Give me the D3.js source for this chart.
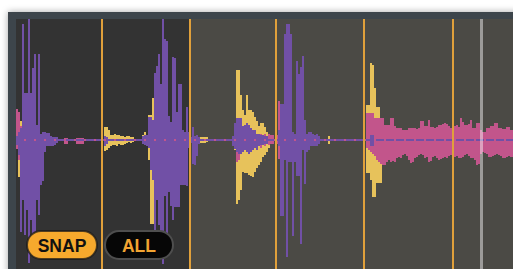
<!DOCTYPE html>
<html>
<head>
<meta charset="utf-8">
<script src="https://cdn.jsdelivr.net/npm/d3@7"></script>
<style>
  html, body { margin: 0; padding: 0; background: #ffffff; overflow: hidden; }
  svg { display: block; }
</style>
</head>
<body>
<svg id="sampler"></svg>
<script>
// ======================
// DATA
// ======================

// waveform columns: [timeIndex, levelAbove, levelBelow]
const purpleLevels = [
  [0,4,5],[1,8,15],[2,12,92],[3,116,60],[4,47,95],[5,47,70],[6,121,123],[7,47,80],[8,72,105],[9,86,92],
  [10,15,60],[11,86,75],[12,6,45],[13,8,41],[14,8,12],[15,7,6],[16,7,6],[17,4,6],[18,3,6],[19,3,5],[20,3,3],
  [44,4,6],[45,3,4],
  [63,4,4],[64,5,5],[65,5,6],[66,23,8],[67,23,30],[68,20,40],[69,67,96],[70,74,60],[71,86,85],[72,56,99],
  [73,121,124],[74,101,56],[75,99,96],[76,24,52],[77,18,66],[78,83,80],[79,82,67],[80,28,67],[81,56,67],
  [82,56,45],[83,10,45],[84,8,45],[85,33,46],[86,8,8],[87,3,3],[88,13,24],[89,4,25],[90,5,16],[91,3,4],
  [108,4,6],[109,17,9],[110,22,12],[111,22,14],[112,22,14],[113,14,12],[114,15,10],[115,17,12],[116,15,14],
  [117,12,12],[118,10,10],[119,10,8],[120,6,10],[121,6,6],[122,5,5],[123,5,5],[124,4,4],[125,4,4],
  [131,10,6],[132,36,76],[133,36,76],[134,106,20],[135,116,117],[136,116,22],[137,106,22],[138,8,96],
  [139,6,22],[140,79,36],[141,66,36],[142,73,104],[143,84,10],[144,20,44],[145,6,12],[146,8,10],[147,8,6],
  [148,6,6],[149,5,6],[150,6,6],[151,4,4],
  [177,5,6],[178,5,6]
];

const yellowLevels = [
  [1,6,37],[2,19,8],
  [44,13,11],[45,13,10],[46,10,8],[47,5,6],[48,5,5],[49,6,5],[50,5,6],[51,5,4],[52,4,5],[53,4,5],
  [54,3,4],[55,4,3],[56,4,2],[57,3,3],[58,3,2],
  [63,5,3],[64,8,4],[65,5,4],[66,25,20],[67,25,84],[68,42,84],
  [92,3,3],[93,3,3],[94,3,3],[95,3,2],
  [109,6,10],[110,70,64],[111,70,60],[112,45,50],[113,30,32],[114,25,33],[115,45,33],[116,30,35],
  [117,30,36],[118,28,37],[119,23,32],[120,19,28],[121,14,25],[122,17,22],[123,17,17],[124,13,15],
  [125,8,12],[126,6,8],
  [132,0,21],[138,4,0],[156,4,4],
  [175,35,33],[176,35,33],[177,77,40],[178,75,57],[179,52,57],[180,33,43],[181,33,43],[182,22,43],
  [183,15,25],[184,8,15]
];

const pinkLevels = [
  [0,31,9],[1,28,20],[2,14,12],
  [24,2,4],[25,2,4],[30,2,4],[31,2,4],[32,2,4],[33,2,4],
  [109,5,8],[110,8,22],[111,8,20],[112,6,10],[122,6,8],[124,6,6],[126,6,5],[127,5,4],[128,5,4],
  [130,5,4],[131,39,19],[132,8,25],
  [175,27,8],[176,27,10],[177,27,12],[178,27,14],[179,22,16],[180,22,20],[181,22,22],[182,22,24],
  [183,22,25],[184,15,25],[185,15,22],[186,15,20],[187,22,22],[188,22,21],[189,14,22],[190,12,18],
  [191,12,17],[192,12,18],[193,10,15],[194,10,14],[195,10,16],[196,12,20],[197,12,23],[198,12,22],
  [199,12,18],[200,11,17],[201,12,15],[202,19,14],[203,19,15],[204,14,18],[205,14,17],[206,20,22],
  [207,13,21],[208,13,17],[209,12,16],[210,13,18],[211,15,20],[212,15,19],[213,16,18],[214,17,17],
  [215,16,18],[216,14,16],[217,12,15],[218,12,14],[219,14,17],[220,15,16],[221,13,18],[222,22,18],
  [223,18,17],[224,15,15],[225,15,14],[226,16,16],[227,20,18],[228,12,18],[229,12,20],[230,17,25],
  [231,17,24],[232,10,14],[233,8,12],[234,8,13],[235,12,14],[236,12,17],[237,14,17],[238,14,16],
  [239,17,15],[240,17,14],[241,12,15],[242,12,16],[243,11,18],[244,11,18],[245,13,17],[246,13,16],
  [247,10,17],[248,10,17]
];

const sliceMarkers = [43, 87, 130, 174, 218.5];
const playheadTime = 232.75;
const selectedRange = [0, 87];
const buttonLabels = ["SNAP", "ALL"];

// ======================
// SETUP
// ======================

const width = 513;
const height = 269;
const frame = { left: 8, top: 12 };
const panel = { left: 16, top: 19 };

const colors = {
  purple: "#7150a6",
  yellow: "#e7c25b",
  pink: "#c2558b",
  orange: "#e0a03b"
};

const svg = d3.select("#sampler")
  .attr("width", width)
  .attr("height", height);

const defs = svg.append("defs");
const shadow = defs.append("filter").attr("id", "frame-shadow")
  .attr("x", "-10%").attr("y", "-10%").attr("width", "120%").attr("height", "120%");
shadow.append("feDropShadow")
  .attr("dx", 0).attr("dy", 0).attr("stdDeviation", 3.5)
  .attr("flood-color", "#000").attr("flood-opacity", 0.35);

defs.append("clipPath").attr("id", "panel-clip")
  .append("rect")
  .attr("x", panel.left).attr("y", panel.top)
  .attr("width", width - panel.left).attr("height", height - panel.top);

// frame and panel backgrounds
svg.append("rect")
  .attr("x", frame.left).attr("y", frame.top)
  .attr("width", width + 20).attr("height", height + 20)
  .attr("fill", "#3d444b")
  .attr("filter", "url(#frame-shadow)");

const xScale = d3.scaleLinear().domain([0, 248.5]).range([panel.left, width]);
const yScale = d3.scaleLinear().domain([-121, 121]).range([261, 19]);

const g = svg.append("g").attr("clip-path", "url(#panel-clip)");

g.append("rect")
  .attr("x", panel.left).attr("y", panel.top)
  .attr("width", width - panel.left).attr("height", height - panel.top)
  .attr("fill", "#4b4a45");

g.append("rect")
  .attr("x", xScale(selectedRange[0])).attr("y", panel.top)
  .attr("width", xScale(selectedRange[1]) - xScale(selectedRange[0]))
  .attr("height", height - panel.top)
  .attr("fill", "#333333");

// ======================
// WAVEFORM LAYERS
// ======================

function drawLayer(levels, color) {
  g.append("g").selectAll("rect")
    .data(levels)
    .join("rect")
    .attr("x", d => xScale(d[0]))
    .attr("width", d => xScale(d[0] + 1) - xScale(d[0]))
    .attr("y", d => yScale(d[1]))
    .attr("height", d => yScale(-d[2]) - yScale(d[1]))
    .attr("fill", color)
    .attr("shape-rendering", "crispEdges");
}

drawLayer(yellowLevels, colors.yellow);
drawLayer(pinkLevels, colors.pink);
drawLayer(purpleLevels, colors.purple);

// center line
g.append("line")
  .attr("x1", panel.left).attr("x2", width)
  .attr("y1", yScale(0)).attr("y2", yScale(0))
  .attr("stroke", colors.pink).attr("stroke-width", 2);
g.append("line")
  .attr("x1", panel.left).attr("x2", width)
  .attr("y1", yScale(0)).attr("y2", yScale(0))
  .attr("stroke", colors.purple).attr("stroke-width", 2)
  .attr("stroke-dasharray", "8 2");

// slice markers
g.selectAll(".slice")
  .data(sliceMarkers)
  .join("rect")
  .attr("class", "slice")
  .attr("x", d => xScale(d) - 1)
  .attr("y", panel.top)
  .attr("width", 2)
  .attr("height", height - panel.top)
  .attr("fill", colors.orange);

// playhead
g.append("rect")
  .attr("x", xScale(playheadTime) - 1.5)
  .attr("y", panel.top)
  .attr("width", 3)
  .attr("height", height - panel.top)
  .attr("fill", "rgba(255,255,255,0.45)");

// ======================
// BUTTONS
// ======================

const buttons = [
  { label: buttonLabels[0], x: 27, w: 70, fill: "#f6a92d", stroke: "rgba(25,25,25,0.75)", text: "#111" },
  { label: buttonLabels[1], x: 105, w: 68, fill: "#060606", stroke: "#4e4e4e", text: "#f2a432" }
];

const btn = svg.append("g").selectAll("g")
  .data(buttons)
  .join("g")
  .attr("transform", d => `translate(${d.x},231)`);

btn.append("rect")
  .attr("width", d => d.w)
  .attr("height", 28)
  .attr("rx", 14)
  .attr("fill", d => d.fill)
  .attr("stroke", d => d.stroke)
  .attr("stroke-width", 2);

btn.append("text")
  .attr("x", d => d.w / 2)
  .attr("y", 20.5)
  .attr("text-anchor", "middle")
  .attr("font-family", "'Liberation Sans', Arial, sans-serif")
  .attr("font-weight", "bold")
  .attr("font-size", 17.5)
  .attr("fill", d => d.text)
  .text(d => d.label);
</script>
</body>
</html>
